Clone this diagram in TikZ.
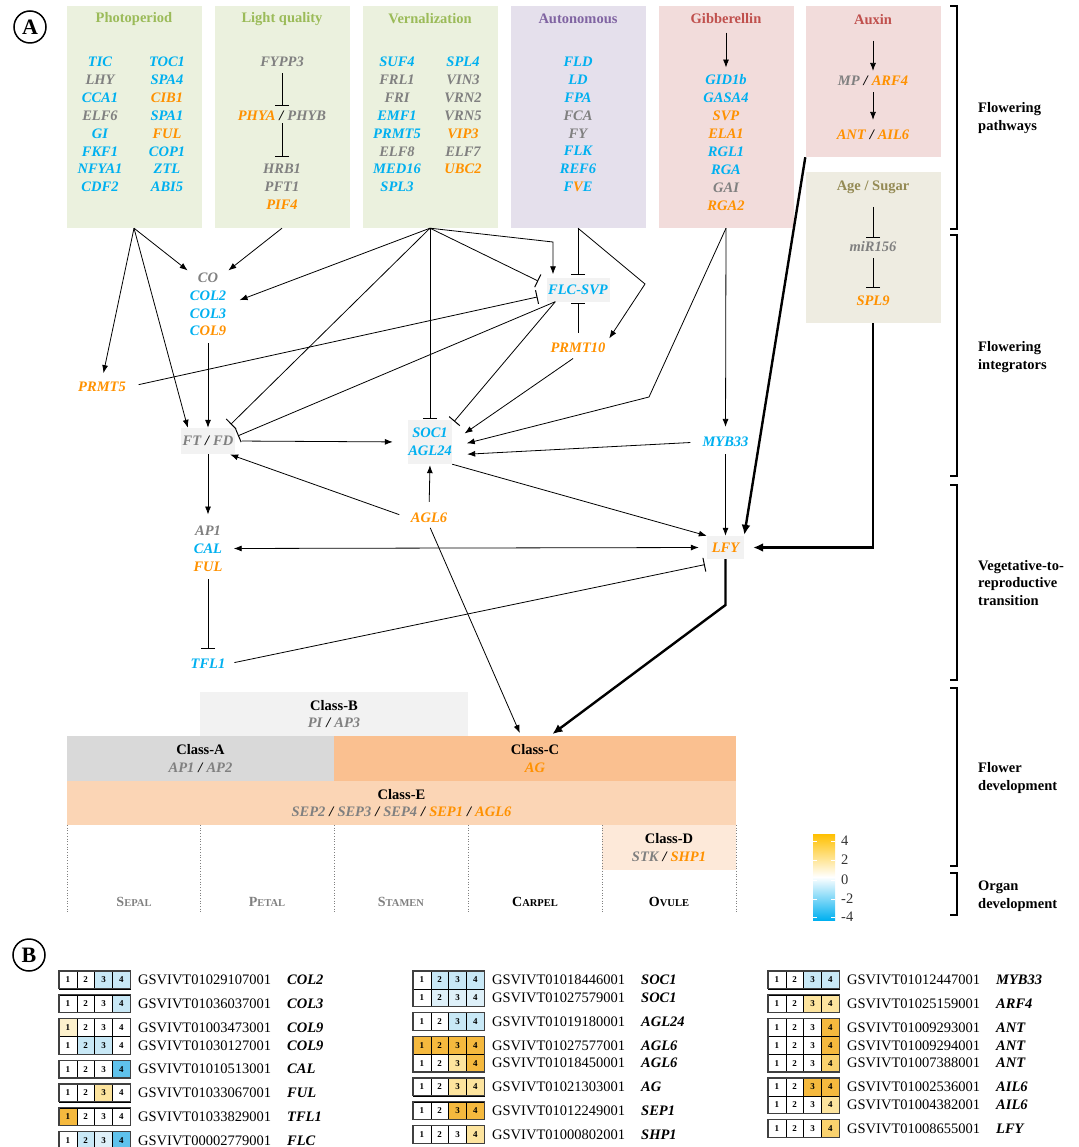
\documentclass[tikz,border=0pt]{standalone}
\usepackage{fontspec}
\setmainfont{Liberation Serif}
\usetikzlibrary{arrows.meta}

\definecolor{gblue}{RGB}{0,176,240}
\definecolor{gorange}{RGB}{255,145,0}
\definecolor{ggray}{RGB}{128,128,128}
\definecolor{grnbg}{RGB}{235,241,222}
\definecolor{grntxt}{RGB}{155,187,89}
\definecolor{purbg}{RGB}{229,224,236}
\definecolor{purtxt}{RGB}{128,100,162}
\definecolor{redbg}{RGB}{242,220,219}
\definecolor{redtxt}{RGB}{192,80,77}
\definecolor{agebg}{RGB}{238,236,225}
\definecolor{agetxt}{RGB}{148,138,84}
\definecolor{nodebg}{RGB}{242,242,242}
\definecolor{clsA}{RGB}{217,217,217}
\definecolor{clsB}{RGB}{242,242,242}
\definecolor{clsC}{RGB}{250,192,144}
\definecolor{clsD}{RGB}{253,233,217}
\definecolor{clsE}{RGB}{251,213,181}
\definecolor{barorange}{RGB}{255,192,0}
% heatmap cells
\definecolor{hw}{RGB}{255,255,255}
\definecolor{hb1}{RGB}{222,240,249}
\definecolor{hb2}{RGB}{200,232,246}
\definecolor{hb3}{RGB}{95,194,236}
\definecolor{hy1}{RGB}{253,241,204}
\definecolor{hy2}{RGB}{253,228,158}
\definecolor{hy3}{RGB}{250,210,110}
\definecolor{ho}{RGB}{245,185,62}

\newcommand{\genefont}{\fontsize{14.5}{17.9}\selectfont\bfseries\itshape}
\newcommand{\titlefont}{\fontsize{14.5}{17.9}\selectfont\bfseries}
\newcommand{\idfont}{\fontsize{14.5}{17}\selectfont}
\newcommand{\cellfont}{\fontsize{9}{9}\selectfont\bfseries}
\newcommand{\blu}[1]{\textcolor{gblue}{#1}}
\newcommand{\ora}[1]{\textcolor{gorange}{#1}}
\newcommand{\gry}[1]{\textcolor{ggray}{#1}}
\newcommand{\sla}{\hspace{4pt}/\hspace{4pt}}
\newcommand{\orglbl}[2]{{\fontsize{14}{14}\selectfont #1}{\fontsize{10.5}{14}\selectfont #2}}

% one heatmap row: x, top, four colours, id, gene
\newcommand{\hmrow}[8]{%
  \foreach \c/\k in {#3/1,#4/2,#5/3,#6/4} {
    \filldraw[fill=\c, draw=black, line width=0.6pt] ({#1+(\k-1)*17.8},#2) rectangle ++(17.8,17.8);
    \node[font=\cellfont, inner sep=0pt] (c#7\k) at ({#1+(\k-0.5)*17.8},{#2+8.9}) {\k};
  }
  \node[anchor=west, font=\idfont, inner sep=0pt] (id#7) at ({#1+79},{#2+8.9}) {#7};
  \node[anchor=west, font=\genefont, inner sep=0pt] (g#7) at ({#1+228},{#2+8.9}) {#8};
}
\newcommand{\hmgroup}[3]{\draw[line width=1.3pt, draw=black!75] (#1,#2) rectangle ++(71.2,{#3*17.8});}

\begin{document}
\begin{tikzpicture}[x=1pt, y=-1pt,
  pbox/.style={minimum width=135pt, inner sep=0pt},
  title/.style={font=\titlefont},
  gene/.style={font=\genefont, inner sep=2pt, align=center},
  gbox/.style={gene, fill=nodebg, inner sep=0pt},
  cls/.style={font=\titlefont, inner sep=0pt, align=center},
  side/.style={anchor=west, align=left, font=\titlefont, inner sep=0pt},
  act/.style={line width=0.8pt, -{Latex[length=8pt,width=6pt]}},
  dbl/.style={line width=0.8pt, {Latex[length=8pt,width=6pt]}-{Latex[length=8pt,width=6pt]}},
  inh/.style={line width=0.8pt, -{Bar[width=14pt,line width=1pt]}},
  thk/.style={line width=2.4pt, -{Latex[length=10pt,width=9pt]}},
  brk/.style={line width=2.2pt}]
\useasboundingbox (0,0) rectangle (1078,1147);

% Panel labels
\node[circle, draw, line width=1.5pt, minimum size=32pt, inner sep=0pt, font=\fontsize{22}{22}\selectfont\bfseries] (lblA) at (30,27) {A};
\node[circle, draw, line width=1.5pt, minimum size=32pt, inner sep=0pt, font=\fontsize{22}{22}\selectfont\bfseries] (lblB) at (29,955) {B};

% Pathway boxes
\node[pbox, fill=grnbg, minimum height=222pt] (photo) at (134,117) {};
\node[pbox, fill=grnbg, minimum height=222pt] (light) at (282,117) {};
\node[pbox, fill=grnbg, minimum height=222pt] (vern) at (430,117) {};
\node[pbox, fill=purbg, minimum height=222pt] (auto) at (578,117) {};
\node[pbox, fill=redbg, minimum height=222pt] (gib) at (726,117) {};
\node[pbox, fill=redbg, minimum height=151pt] (auxin) at (873,81.5) {};
\node[pbox, fill=agebg, minimum height=151pt] (age) at (873,247.5) {};

% Titles
\node[title, text=grntxt] (photot) at (134,19) {Photoperiod};
\node[title, text=grntxt] (lightt) at (282,19) {Light quality};
\node[title, text=grntxt] (vernt) at (430,19) {Vernalization};
\node[title, text=purtxt] (autot) at (578,19) {Autonomous};
\node[title, text=redtxt] (gibt) at (726,19) {Gibberellin};
\node[title, text=redtxt] (auxt) at (873,20) {Auxin};
\node[title, text=agetxt] (aget) at (873,187) {Age / Sugar};

% Genes in the pathway boxes
\node[gene] (photol) at (100,124.5) {\blu{TIC}\\\gry{LHY}\\\blu{CCA1}\\\gry{ELF6}\\\blu{GI}\\\blu{FKF1}\\\blu{NFYA1}\\\blu{CDF2}};
\node[gene] (photor) at (167,124.5) {\blu{TOC1}\\\blu{SPA4}\\\ora{CIB1}\\\blu{SPA1}\\\ora{FUL}\\\blu{COP1}\\\blu{ZTL}\\\blu{ABI5}};
\node[gene] (fypp) at (282,62) {\gry{FYPP3}};
\node[gene] (phy) at (282,116) {\ora{PHYA}\sla\gry{PHYB}};
\node[gene] (hrb) at (282,187) {\gry{HRB1}\\\gry{PFT1}\\\ora{PIF4}};
\node[gene] (vernl) at (397,124.5) {\blu{SUF4}\\\gry{FRL1}\\\gry{FRI}\\\blu{EMF1}\\\blu{PRMT5}\\\gry{ELF8}\\\blu{MED16}\\\blu{SPL3}};
\node[gene] (vernr) at (463,115.5) {\blu{SPL4}\\\gry{VIN3}\\\gry{VRN2}\\\gry{VRN5}\\\ora{VIP3}\\\gry{ELF7}\\\ora{UBC2}};
\node[gene] (autog) at (578,124.5) {\blu{FLD}\\\blu{LD}\\\blu{FPA}\\\gry{FCA}\\\gry{FY}\\\blu{FLK}\\\blu{REF6}\\\blu{F}\ora{V}\blu{E}};
\node[gene] (gibg) at (726,142.5) {\blu{GID1b}\\\blu{GASA4}\\\ora{SVP}\\\ora{ELA1}\\\blu{RGL1}\\\blu{RGA}\\\gry{GAI}\\\ora{RGA2}};
\node[gene] (mp) at (873,81) {\gry{MP}\sla\ora{ARF4}};
\node[gene] (antn) at (873,135) {\ora{ANT}\sla\ora{AIL6}};
\node[gene] (mir) at (873,247) {\gry{miR156}};
\node[gene] (spl) at (873,301) {\ora{SPL9}};

% Links inside the boxes
\draw[inh, shorten <=4pt, shorten >=3pt] (fypp) -- (phy);
\draw[inh, shorten >=5pt] (phy) -- (hrb);
\draw[act, shorten <=5pt, shorten >=5pt] (gibt) -- (gibg);
\draw[act, shorten <=12pt, shorten >=3pt] (auxt) -- (mp);
\draw[act, shorten <=4pt, shorten >=8pt] (mp) -- (antn);
\draw[inh, shorten <=10pt, shorten >=2pt] (aget) -- (mir);
\draw[inh, shorten <=4pt, shorten >=6pt] (mir) -- (spl);

% Integrator nodes
\node[gene] (co) at (208,304.4) {\gry{CO}\\\blu{COL2}\\\blu{COL3}\\\blu{C}\ora{OL9}};
\node[gene] (prmt5) at (102,387) {\ora{PRMT5}};
\node[gbox, minimum width=54pt, minimum height=26pt] (ftfd) at (208,441) {\gry{FT}\sla\gry{FD}};
\node[gbox, text=gblue, minimum width=44pt, minimum height=44pt] (soc) at (430,442) {SOC1\\AGL24};
\node[gbox, minimum width=63pt, minimum height=23pt] (flc) at (578,290) {\blu{FLC-SVP}};
\node[gene] (prmt10) at (578,348) {\ora{PRMT10}};
\node[gene] (myb33) at (725.5,442) {\blu{MYB33}};
\node[gene] (agl6) at (429,518) {\ora{AGL6}};
\node[gene] (ap) at (208,548.5) {\gry{AP1}\\\blu{CAL}\\\ora{FUL}};
\node[gene] (tfl1) at (208,664) {\blu{TFL1}};
\node[gbox, minimum width=37pt, minimum height=23pt] (lfy) at (725.5,547.5) {\ora{LFY}};

% Elbows
\coordinate (vflc) at (553,242);
\coordinate (aelb) at (645,284);
\coordinate (gelb) at (649,397);
\coordinate (lelb) at (725.5,605);

% Photoperiod and light quality
\draw[act] (photo.south) -- (co.north west);
\draw[act] (light.south) -- (co.north east);
\draw[act, shorten >=7pt] (photo.south) -- (prmt5.north);
\draw[act] (photo.south) -- ([xshift=7pt]ftfd.north west);
\draw[act, shorten <=5pt] (co.south) -- (ftfd.north);

% Vernalization
\draw[act, shorten >=12pt] (vern.south) -- (co.east);
\draw[inh, shorten >=5pt] (vern.south) -- ([xshift=-8pt]ftfd.north east);
\draw[inh, shorten >=1pt] (vern.south) -- (soc.north);
\draw[act, shorten >=4pt] (vern.south) -- (vflc) -- (vflc |- flc.north);
\draw[inh, shorten >=9pt] (vern.south) -- ([yshift=5pt]flc.west);
\draw[inh, shorten <=11pt, shorten >=9pt] (prmt5.east) -- ([yshift=-5pt]flc.west);

% Autonomous
\draw[inh, shorten >=3pt] (auto.south) -- (flc.north);
\draw[act, shorten >=3pt] (auto.south) -- (aelb) -- (prmt10.north east);
\draw[inh, shorten <=8pt, shorten >=1pt] (prmt10.north) -- (flc.south);

% FLC-SVP
\draw[inh, shorten >=3pt] ([xshift=9pt]flc.south west) -- ([yshift=4pt]ftfd.east);
\draw[inh, shorten >=3pt] ([xshift=9pt]flc.south west) -- ([yshift=-4pt]soc.north east);

% Into SOC1 / AGL24
\draw[act, shorten <=6pt, shorten >=15pt] (prmt10.south) -- (soc.east);
\draw[act, shorten >=15pt] (gib.south) -- (gelb) -- ([yshift=-5pt]soc.east);
\draw[act, shorten <=10pt, shorten >=15pt] (myb33.west) -- ([yshift=-13pt]soc.east);
\draw[act, shorten <=7pt, shorten >=15pt] (ftfd.east) -- (soc.west);
\draw[act, shorten <=9pt, shorten >=1pt] (agl6.north) -- (soc.south);
\draw[act, shorten <=10pt, shorten >=1pt] (agl6.west) -- ([xshift=-6pt]ftfd.south east);
\draw[act, shorten >=8pt] (gib.south) -- (myb33.north);

% Towards LFY
\draw[act] (soc.south east) -- (lfy.north west);
\draw[act, shorten <=5pt] (myb33.south) -- (lfy.north);
\draw[thk, shorten >=1pt] (auxin.south west) -- (lfy.north east);
\draw[thk, shorten >=9pt] (age.south) |- (lfy.east);
\draw[act, shorten >=9pt] (ftfd.south) -- (ap.north);
\draw[dbl, shorten <=9pt, shorten >=8pt] (ap.east) -- (lfy.west);
\draw[inh, shorten <=6pt, shorten >=8pt] (ap.south) -- (tfl1.north);
\draw[inh, shorten <=7pt, shorten >=2pt] (tfl1.east) -- ([yshift=-5pt]lfy.south west);

% Flower development
\node[cls, fill=clsB, minimum width=268pt, minimum height=44pt] (bcls) at (334,714) {Class-B\\\textit{\gry{PI}\sla\gry{AP3}}};
\node[cls, fill=clsA, minimum width=267pt, minimum height=45pt] (acls) at (200.5,758.5) {Class-A\\\textit{\gry{AP1}\sla\gry{AP2}}};
\node[cls, fill=clsC, minimum width=402pt, minimum height=45pt] (ccls) at (535,758.5) {Class-C\\\textit{\ora{AG}}};
\node[cls, fill=clsE, minimum width=669pt, minimum height=44pt] (ecls) at (401.5,803) {Class-E\\\textit{\gry{SEP2}\sla\gry{SEP3}\sla\gry{SEP4}\sla\ora{SEP1}\sla\ora{AGL6}}};
\node[cls, fill=clsD, minimum width=134pt, minimum height=45pt] (dcls) at (669,847.5) {Class-D\\\textit{\gry{STK}\sla\ora{SHP1}}};

\draw[thk, shorten >=3pt] (lfy.south) -- (lelb) -- ([xshift=15pt]ccls.north);
\draw[act, shorten <=3pt, shorten >=3pt] (agl6.south) -- ([xshift=-14pt]ccls.north);

% Organs
\foreach \x in {67,200,334,468,602,736}
  \draw[dotted, ggray, line width=0.7pt] (\x,825) -- (\x,913);
\node[title, text=ggray] (sepal) at (134,902) {\orglbl{S}{EPAL}};
\node[title, text=ggray] (petal) at (267,902) {\orglbl{P}{ETAL}};
\node[title, text=ggray] (stamen) at (401,902) {\orglbl{S}{TAMEN}};
\node[title] (carpel) at (535,902) {\orglbl{C}{ARPEL}};
\node[title] (ovule) at (669,902) {\orglbl{O}{VULE}};

% Colour scale
\shade[top color=barorange, bottom color=gblue, middle color=white] (813,834) rectangle (835,920);
\foreach \t/\v in {841/4,860/2,880/0,899/-2,917/-4} {
  \draw[white, line width=0.8pt] (813,\t) -- (817,\t);
  \draw[white, line width=0.8pt] (831,\t) -- (835,\t);
  \node[anchor=west, font=\idfont, text=black!80, inner sep=0pt] (bar\t) at (841,\t) {\v};
}

% Stages
\draw[brk] (950,6) -- (957,6) -- (957,229) -- (950,229);
\draw[brk] (950,235) -- (957,235) -- (957,476) -- (950,476);
\draw[brk] (950,485) -- (957,485) -- (957,680) -- (950,680);
\draw[brk] (950,688) -- (957,688) -- (957,866) -- (950,866);
\draw[brk] (950,873) -- (957,873) -- (957,915) -- (950,915);
\node[side] (spath) at (978,118) {Flowering\\pathways};
\node[side] (sint) at (978,357) {Flowering\\integrators};
\node[side] (sveg) at (978,583) {Vegetative-to-\\reproductive\\transition};
\node[side] (sflw) at (978,778) {Flower\\development};
\node[side] (sorg) at (978,896) {Organ\\development};

% Heatmap, first column
\hmrow{59}{971}{hw}{hw}{hb2}{hb2}{GSVIVT01029107001}{COL2}
\hmgroup{59}{971}{1}
\hmrow{59}{994.8}{hw}{hw}{hw}{hb2}{GSVIVT01036037001}{COL3}
\hmgroup{59}{994.8}{1}
\hmrow{59}{1018.6}{hy1}{hw}{hw}{hw}{GSVIVT01003473001}{COL9}
\hmrow{59}{1036.4}{hw}{hb2}{hb2}{hw}{GSVIVT01030127001}{COL9}
\hmgroup{59}{1018.6}{2}
\hmrow{59}{1060.2}{hw}{hw}{hw}{hb3}{GSVIVT01010513001}{CAL}
\hmgroup{59}{1060.2}{1}
\hmrow{59}{1084}{hw}{hw}{hy2}{hw}{GSVIVT01033067001}{FUL}
\hmgroup{59}{1084}{1}
\hmrow{59}{1107.8}{ho}{hw}{hw}{hw}{GSVIVT01033829001}{TFL1}
\hmgroup{59}{1107.8}{1}
\hmrow{59}{1131.6}{hw}{hb2}{hb1}{hb3}{GSVIVT00002779001}{FLC}
\hmgroup{59}{1131.6}{1}

% Heatmap, second column
\hmrow{413}{971}{hw}{hb2}{hb2}{hb2}{GSVIVT01018446001}{SOC1}
\hmrow{413}{988.8}{hw}{hb1}{hb1}{hb1}{GSVIVT01027579001}{SOC1}
\hmgroup{413}{971}{2}
\hmrow{413}{1012.6}{hw}{hw}{hb2}{hb2}{GSVIVT01019180001}{AGL24}
\hmgroup{413}{1012.6}{1}
\hmrow{413}{1036.4}{ho}{ho}{ho}{ho}{GSVIVT01027577001}{AGL6}
\hmrow{413}{1054.2}{hw}{hw}{hy2}{ho}{GSVIVT01018450001}{AGL6}
\hmgroup{413}{1036.4}{2}
\hmrow{413}{1078}{hw}{hw}{hy2}{hy2}{GSVIVT01021303001}{AG}
\hmgroup{413}{1078}{1}
\hmrow{413}{1101.8}{hw}{hw}{ho}{ho}{GSVIVT01012249001}{SEP1}
\hmgroup{413}{1101.8}{1}
\hmrow{413}{1125.6}{hw}{hw}{hw}{hy2}{GSVIVT01000802001}{SHP1}
\hmgroup{413}{1125.6}{1}

% Heatmap, third column
\hmrow{768}{971}{hw}{hw}{hb2}{hb2}{GSVIVT01012447001}{MYB33}
\hmgroup{768}{971}{1}
\hmrow{768}{994.8}{hw}{hw}{hy2}{hy2}{GSVIVT01025159001}{ARF4}
\hmgroup{768}{994.8}{1}
\hmrow{768}{1018.6}{hw}{hw}{hw}{ho}{GSVIVT01009293001}{ANT}
\hmrow{768}{1036.4}{hw}{hw}{hw}{ho}{GSVIVT01009294001}{ANT}
\hmrow{768}{1054.2}{hw}{hw}{hw}{hy3}{GSVIVT01007388001}{ANT}
\hmgroup{768}{1018.6}{3}
\hmrow{768}{1078}{hw}{hw}{ho}{ho}{GSVIVT01002536001}{AIL6}
\hmrow{768}{1095.8}{hw}{hw}{hw}{hy2}{GSVIVT01004382001}{AIL6}
\hmgroup{768}{1078}{2}
\hmrow{768}{1119.6}{hw}{hw}{hw}{hy3}{GSVIVT01008655001}{LFY}
\hmgroup{768}{1119.6}{1}
\end{tikzpicture}
\end{document}
